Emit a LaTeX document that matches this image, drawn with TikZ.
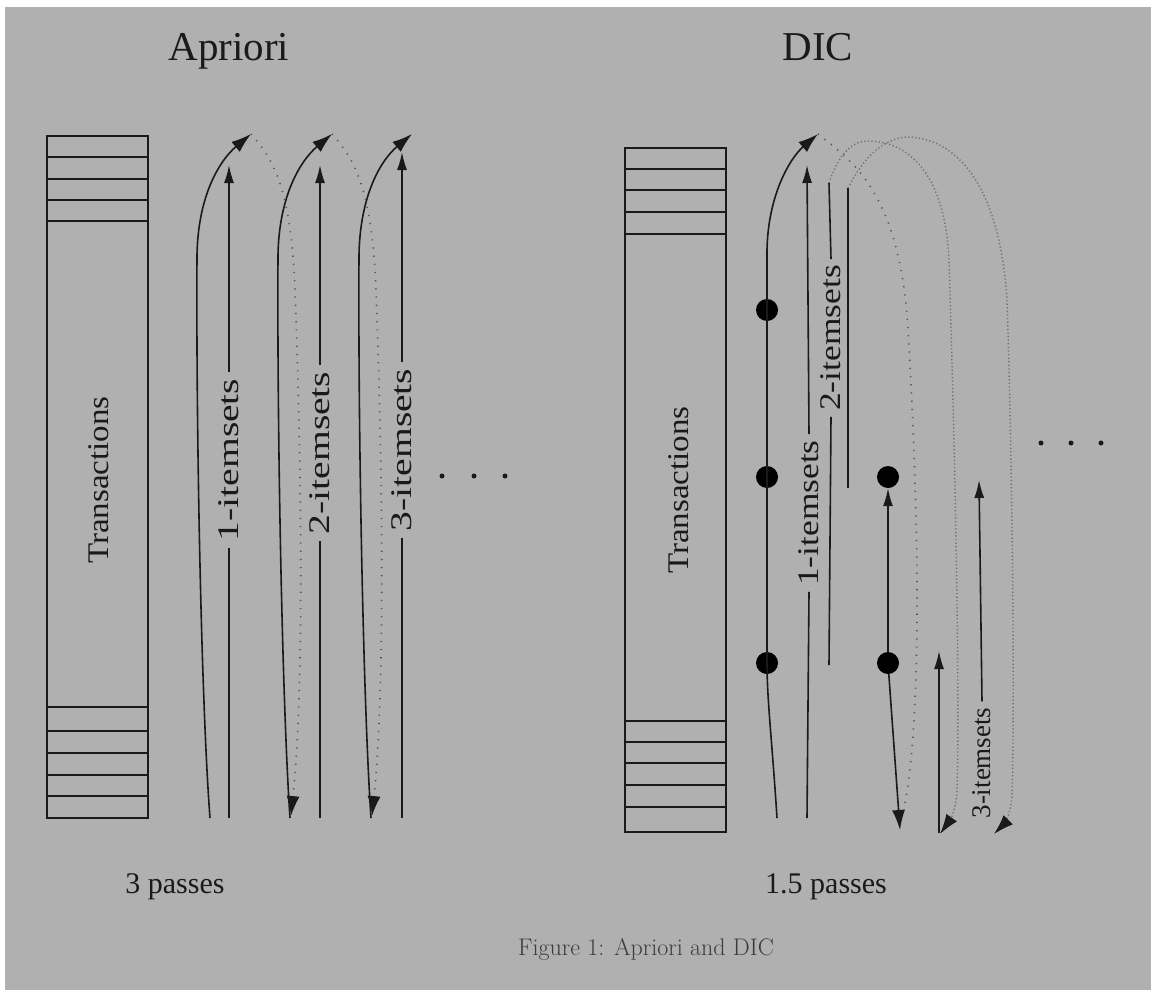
\documentclass[tikz,border=0pt]{standalone}
\usepackage{fontspec}
\newfontfamily\tms{Liberation Serif}
\usetikzlibrary{arrows.meta}
\definecolor{bg}{HTML}{B0B0B0}
\definecolor{ink}{HTML}{1A1A1A}
\definecolor{dotc}{HTML}{555555}
\definecolor{archc}{HTML}{6E6E6E}
\newcommand{\stretchtxt}[2]{\scalebox{#1}[1]{#2}}
\tikzset{
  px/.style={x=1pt,y=-1pt},
  trans/.style={draw=ink,line width=1.6pt,minimum width=101pt,inner sep=0pt,anchor=north west},
  stripe/.style={draw=ink,line width=1.6pt},
  lbl/.style={font=\tms\fontsize{30}{30}\selectfont,rotate=90,inner sep=6pt,text=ink},
  smalllbl/.style={lbl,font=\tms\fontsize{27}{27}\selectfont},
  ttl/.style={font=\tms\fontsize{41}{41}\selectfont,text=ink},
  sub/.style={font=\tms\fontsize{30}{30}\selectfont,text=ink,anchor=base},
  pass/.style={draw=ink,line width=1.6pt},
  tip/.style={-{Latex[length=20pt,width=13pt,color=ink]}},
  stip/.style={-{Latex[length=18pt,width=10pt,color=ink]}},
  ret/.style={draw=dotc,line width=1.6pt,dash pattern=on 1.2pt off 7pt},
  arch/.style={draw=archc,line width=1.4pt,dash pattern=on 1.2pt off 2.4pt},
  bigdot/.style={circle,fill=black,minimum size=22pt,inner sep=0pt},
  smalldot/.style={circle,fill=ink,minimum size=5pt,inner sep=0pt},
}
\begin{document}
\begin{tikzpicture}[px]
\fill[white] (0,0) rectangle (1151,990);
\fill[bg] (5,7) rectangle (1151,990);
\useasboundingbox (0,0) rectangle (1151,990);

% ---------------- Apriori ----------------
\node[ttl,anchor=base] (tA) at (229,60) {Apriori};
\node[trans,minimum height=682pt] (RA) at (46,135) {};
\foreach \y in {157,179,200,221,707,731,753,775,796}
  \draw[stripe] (RA.west |- 0,\y) -- (RA.east |- 0,\y);
\node[lbl] (TA) at (99,480) {\stretchtxt{1.1}{Transactions}};

% named points
\coordinate (a1b) at (210,818); \coordinate (a1t) at (251,134);
\coordinate (a2b) at (290,818); \coordinate (a2t) at (332,134);
\coordinate (a3b) at (371,818); \coordinate (a3t) at (412,134);
\coordinate (s1b) at (229,818); \coordinate (s1t) at (229,165);
\coordinate (s2b) at (320,818); \coordinate (s2t) at (320,165);
\coordinate (s3b) at (402,818); \coordinate (s3t) at (402,152);
\coordinate (r1e) at (291,816); \coordinate (r2e) at (372,816);

% passes (solid curves)
\draw[pass,tip] (a1b) .. controls (201,700) and (196,420) .. (197,255) .. controls (198,195) and (220,160) .. (a1t);
\draw[pass,tip] (a2b) .. controls (282,700) and (277,420) .. (278,255) .. controls (279,195) and (301,160) .. (a2t);
\draw[pass,tip] (a3b) .. controls (363,700) and (358,420) .. (359,255) .. controls (360,195) and (381,160) .. (a3t);
% returns (dotted)
\draw[ret,tip] (a1t) .. controls (272,158) and (291,185) .. (295,290) .. controls (302,480) and (304,690) .. (r1e);
\draw[ret,tip] (a2t) .. controls (353,158) and (372,185) .. (376,290) .. controls (383,480) and (385,690) .. (r2e);
% itemset lines
\node[lbl] (L1) at (229,460) {\stretchtxt{1.32}{1-itemsets}};
\node[lbl] (L2) at (320,453) {\stretchtxt{1.32}{2-itemsets}};
\node[lbl] (L3) at (402,450) {\stretchtxt{1.32}{3-itemsets}};
\draw[pass] (s1b) -- (L1.west); \draw[pass,stip] (L1.east) -- (s1t);
\draw[pass] (s2b) -- (L2.west); \draw[pass,stip] (L2.east) -- (s2t);
\draw[pass] (s3b) -- (L3.west); \draw[pass,stip] (L3.east) -- (s3t);
\node[smalldot] (e1) at (442,476) {};
\node[smalldot] (e2) at (474,476) {};
\node[smalldot] (e3) at (505,476) {};
\node[sub] (pA) at (175,893) {3 passes};

% ---------------- DIC ----------------
\node[ttl,anchor=base] (tD) at (818,60) {DIC};
\node[trans,minimum height=684pt] (RD) at (624,147) {};
\foreach \y in {169,190,212,234,721,742,763,785,807}
  \draw[stripe] (RD.west |- 0,\y) -- (RD.east |- 0,\y);
\node[lbl] (TD) at (679,490) {\stretchtxt{1.1}{Transactions}};

\node[bigdot] (d1) at (767,310) {};
\node[bigdot] (d2) at (767,477) {};
\node[bigdot] (d3) at (767,663) {};
\node[bigdot] (d4) at (888,477) {};
\node[bigdot] (d5) at (888,663) {};

\coordinate (b1b) at (777,818); \coordinate (b1t) at (818,134);
\draw[pass,tip] (b1b) .. controls (772,740) and (767,700) .. (d3.center) -- (d2.center) -- (d1.center) -- (767,250) .. controls (768,195) and (790,158) .. (b1t);

\coordinate (u1b) at (807,818); \coordinate (u1t) at (807,165);
\node[lbl] (M1) at (809,513) {\stretchtxt{1.18}{1-itemsets}};
\draw[pass] (u1b) -- (M1.west); \draw[pass,stip] (M1.east) -- (u1t);

\coordinate (v2t) at (829,183); \coordinate (v2b) at (829,665);
\node[lbl] (M2) at (831,338) {\stretchtxt{1.18}{2-itemsets}};
\draw[pass] (v2t) -- (M2.east); \draw[pass] (M2.west) -- (v2b);
\coordinate (w2t) at (848,188); \coordinate (w2b) at (848,488);
\draw[pass] (w2t) -- (w2b);

% return of pass 1
\coordinate (q1) at (902,818);
\draw[ret] (b1t) .. controls (850,160) and (900,190) .. (908,330) .. controls (917,480) and (925,720) .. (q1);
% pass 2 pieces
\coordinate (q1e) at (900,830);
\draw[pass,tip] (d5) -- (q1e);
\draw[pass,stip] (d5) -- (d4);
% arches
\coordinate (g1e) at (940,834);
\coordinate (g2e) at (994,834);
\draw[arch,tip] (v2t) .. controls (840,150) and (855,141) .. (867,141) .. controls (910,141) and (945,175) .. (949,260) .. controls (955,450) and (960,700) .. (957,790) .. controls (956,810) and (950,820) .. (g1e);
\draw[arch,tip] (w2t) .. controls (865,155) and (885,137) .. (910,137) .. controls (960,140) and (1000,190) .. (1007,300) .. controls (1012,450) and (1015,700) .. (1012,795) .. controls (1011,815) and (1003,825) .. (g2e);

\coordinate (u3b) at (939,833); \coordinate (u3t) at (939,651);
\draw[pass,stip] (u3b) -- (u3t);

\node[smalllbl] (M3) at (982,763) {3-itemsets};
\coordinate (x3t) at (979,480);
\draw[pass,stip] (M3.east) -- (x3t);

\node[smalldot] (f1) at (1041,443) {};
\node[smalldot] (f2) at (1071,443) {};
\node[smalldot] (f3) at (1101,443) {};
\node[sub] (pD) at (826,893) {1.5 passes};

\node[font=\fontsize{24}{24}\selectfont,text=ink!85,anchor=base] (cap) at (646,955) {Figure 1: Apriori and DIC};
\end{tikzpicture}
\end{document}
